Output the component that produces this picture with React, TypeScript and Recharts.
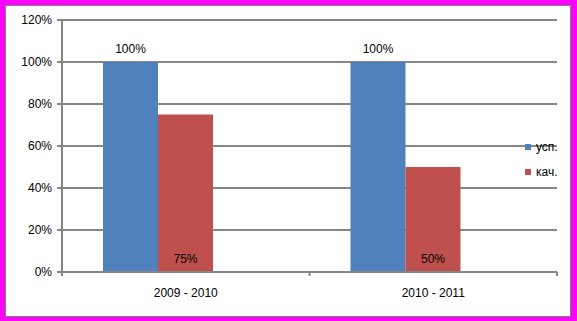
import React from 'react';
import {
  BarChart,
  Bar,
  XAxis,
  YAxis,
  CartesianGrid,
  Legend,
  LabelList,
} from 'recharts';

// values
const categories = ['2009 - 2010', '2010 - 2011'];
const uspValues = [100, 100];
const kachValues = [75, 50];
const yTicks = [0, 20, 40, 60, 80, 100, 120];
const seriesNames = ['усп.', 'кач.'];
const seriesColors = ['#4F81BD', '#C0504D'];

const data = categories.map((name, i) => ({
  name,
  usp: uspValues[i],
  kach: kachValues[i],
  empty: null, // Excel chart keeps a third, empty series slot
}));

const FONT = '"Liberation Sans", Arial, sans-serif';
const GRID = '#868686';

// category label at the band centre, tick marks at the band edges (Excel style)
const CategoryTick = (props: any) => {
  const { x, y, payload, index, visibleTicksCount } = props;
  const half = payload.offset || 0;
  return (
    <g>
      <line x1={x - half} x2={x - half} y1={y} y2={y + 4} stroke={GRID} strokeWidth={2} />
      {index === visibleTicksCount - 1 && (
        <line x1={x + half} x2={x + half} y1={y} y2={y + 4} stroke={GRID} strokeWidth={2} />
      )}
      <text x={x} y={y + 25} textAnchor="middle" fontSize={12} fontFamily={FONT} fill="#000">
        {payload.value}
      </text>
    </g>
  );
};

const LegendContent = () => (
  <div style={{ fontFamily: FONT, fontSize: 12, color: '#000' }}>
    {seriesNames.map((n, i) => (
      <div key={n} style={{ display: 'flex', alignItems: 'center', height: 25 }}>
        <span style={{ width: 6, height: 6, background: seriesColors[i], marginRight: 5 }} />
        <span>{n}</span>
      </div>
    ))}
  </div>
);

const App: React.FC = () => {
  return (
    <div style={{ position: 'absolute', left: 0, top: 0, width: 577, height: 321, background: '#ff00ff' }}>
      <div
        style={{
          position: 'absolute',
          left: 5,
          top: 5,
          width: 566,
          height: 312,
          boxSizing: 'border-box',
          background: '#fff',
          border: '1px solid #808080',
        }}
      />
      <div style={{ position: 'absolute', left: 0, top: 0 }}>
        <BarChart
          width={577}
          height={321}
          data={data}
          margin={{ top: 20, right: 20, left: 0, bottom: 19 }}
          barCategoryGap={41}
          barGap={0}
        >
          <CartesianGrid vertical={false} stroke={GRID} strokeWidth={2} />
          <XAxis
            dataKey="name"
            height={30}
            interval={0}
            tickSize={0}
            tickMargin={0}
            tickLine={false}
            axisLine={{ stroke: GRID, strokeWidth: 2 }}
            tick={<CategoryTick />}
          />
          <YAxis
            width={62}
            domain={[0, 120]}
            ticks={yTicks}
            interval={0}
            tickFormatter={(v) => `${v}%`}
            tickSize={5}
            tickMargin={5}
            tickLine={{ stroke: GRID, strokeWidth: 2 }}
            axisLine={{ stroke: GRID, strokeWidth: 2 }}
            tick={{ fill: '#000', fontSize: 12, fontFamily: FONT }}
          />
          <Legend
            layout="horizontal"
            align="center"
            verticalAlign="middle"
            content={<LegendContent />}
            wrapperStyle={{ left: 525, top: 134, width: 50, height: 50 }}
          />
          <Bar dataKey="usp" name={seriesNames[0]} fill={seriesColors[0]} isAnimationActive={false}>
            <LabelList
              dataKey="usp"
              position="top"
              offset={9}
              formatter={(v: any) => `${v}%`}
              fill="#000"
              fontSize={12}
              fontFamily={FONT}
            />
          </Bar>
          <Bar dataKey="kach" name={seriesNames[1]} fill={seriesColors[1]} isAnimationActive={false}>
            <LabelList
              dataKey="kach"
              position="insideBottom"
              offset={9}
              formatter={(v: any) => `${v}%`}
              fill="#000"
              fontSize={12}
              fontFamily={FONT}
            />
          </Bar>
          <Bar dataKey="empty" legendType="none" fill="#9BBB59" isAnimationActive={false} />
        </BarChart>
      </div>
    </div>
  );
};

export default App;
